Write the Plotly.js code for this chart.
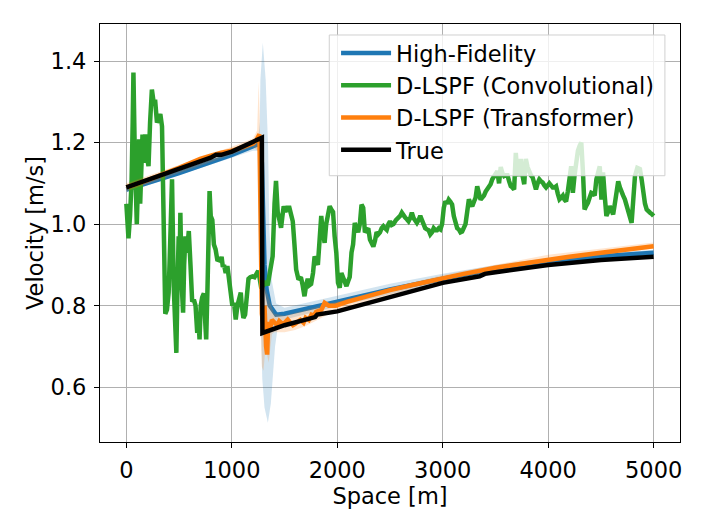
<!DOCTYPE html>
<html>
<head>
<meta charset="utf-8">
<script src="https://cdn.plot.ly/plotly-3.0.1.min.js"></script>
<style>html,body{margin:0;padding:0;background:#fff;}#chart{width:706px;height:529px;}</style>
</head>
<body>
<div id="chart"></div>
<script>
// ---- True ----
const trueX = [0, 200, 400, 600, 800, 850, 900, 1000, 1100, 1200, 1285, 1290, 1500, 1790, 1810, 2000, 2500, 3000, 3350, 3400, 3500, 4000, 4500, 5000];
const trueY = [1.09, 1.108, 1.127, 1.145, 1.163, 1.170, 1.170, 1.178, 1.19, 1.20, 1.212, 0.733, 0.752, 0.772, 0.778, 0.786, 0.822, 0.856, 0.872, 0.878, 0.882, 0.90, 0.912, 0.92];

// ---- High-Fidelity ----
const hfX = [0, 500, 1000, 1200, 1270, 1285, 1295, 1310, 1330, 1360, 1420, 1500, 2000, 2500, 3000, 3500, 4000, 4500, 5000];
const hfY = [1.085, 1.125, 1.17, 1.19, 1.198, 1.15, 1.0, 0.90, 0.84, 0.80, 0.778, 0.78, 0.81, 0.84, 0.866, 0.89, 0.908, 0.921, 0.93];
const hfUpX = [0, 1000, 1200, 1250, 1265, 1271, 1294, 1321, 1344, 1356, 1380, 1420, 1500, 2000, 2500, 3000, 3500, 4000, 4500, 5000];
const hfUpY = [1.095, 1.18, 1.20, 1.21, 1.25, 1.355, 1.445, 1.355, 1.19, 0.99, 0.86, 0.805, 0.795, 0.824, 0.854, 0.878, 0.90, 0.916, 0.928, 0.937];
const hfLoX = [0, 1000, 1200, 1250, 1262, 1271, 1277, 1289, 1310, 1342, 1370, 1391, 1410, 1440, 1500, 2000, 2500, 3000, 3500, 4000, 4500, 5000];
const hfLoY = [1.078, 1.163, 1.18, 1.18, 1.17, 0.99, 0.74, 0.62, 0.55, 0.513, 0.56, 0.62, 0.70, 0.755, 0.766, 0.798, 0.828, 0.855, 0.88, 0.899, 0.913, 0.923];

// ---- D-LSPF (Convolutional) ----
const convX = [0,10,20,35,50,60,67,78,89,99,110,121,131,140,153,165,178,194,210,225,242,258,274,290,306,322,338,350,369,385,401,415,433,449,462,474,485,496,505,512,525,538,548,560,575,592,608,624,640,656,672,685,694,705,719,735,750,757,770,780,789,800,815,830,846,862,878,894,903,915,926,942,958,974,990,1005,1021,1037,1053,1069,1085,1094,1110,1126,1140,1158,1175,1196,1215,1234,1250,1259,1276,1300,1320,1340,1360,1387,1405,1419,1435,1451,1467,1480,1492,1508,1524,1546,1562,1578,1594,1610,1632,1655,1672,1689,1705,1720,1736,1752,1770,1785,1800,1816,1832,1848,1864,1880,1895,1912,1928,1944,1960,1975,1991,2007,2023,2039,2055,2071,2087,2103,2118,2135,2150,2166,2182,2198,2214,2230,2246,2262,2278,2294,2310,2326,2342,2358,2373,2389,2405,2421,2437,2453,2469,2485,2500,2517,2533,2556,2580,2596,2612,2628,2644,2660,2676,2692,2707,2723,2739,2755,2771,2787,2803,2818,2834,2850,2866,2882,2898,2914,2930,2946,2962,2978,2994,3010,3025,3041,3057,3073,3089,3105,3121,3137,3153,3168,3184,3200,3216,3232,3248,3264,3280,3296,3312,3327,3343,3359,3375,3391,3407,3423,3439,3454,3470,3486,3502,3518,3534,3550,3566,3582,3598,3614,3630,3645,3661,3677,3685,3693,3705,3718,3730,3740,3756,3773,3780,3788,3804,3820,3836,3852,3868,3884,3900,3916,3932,3948,3964,3980,3996,4011,4027,4043,4059,4075,4091,4107,4123,4139,4155,4170,4186,4202,4218,4226,4234,4250,4266,4282,4298,4314,4330,4345,4361,4377,4393,4409,4425,4441,4457,4473,4489,4497,4505,4512,4520,4536,4552,4568,4584,4600,4616,4632,4648,4664,4680,4695,4711,4727,4743,4759,4775,4791,4807,4823,4845,4870,4886,4902,4918,4934,4950,4966,4982,5000];
const convY = [1.05,1.00,0.965,1.02,1.11,1.25,1.372,1.20,1.044,1.00,1.10,1.208,1.05,1.18,1.22,1.15,1.22,1.167,1.142,1.25,1.33,1.30,1.30,1.249,1.26,1.27,1.24,1.05,0.78,0.79,0.832,0.95,1.11,0.848,0.75,0.684,0.85,0.97,0.90,1.028,0.85,0.783,0.90,0.97,0.93,0.983,0.90,0.81,0.815,0.80,0.733,0.76,0.717,0.80,0.82,0.83,0.75,0.717,0.85,1.00,1.081,1.02,1.01,0.95,0.938,0.913,0.91,0.91,0.92,0.895,0.90,0.88,0.897,0.855,0.815,0.80,0.807,0.766,0.80,0.824,0.832,0.80,0.77,0.778,0.83,0.866,0.87,0.872,0.87,0.878,0.885,0.875,0.848,0.85,0.86,0.85,0.88,0.921,1.05,1.106,1.03,1.012,0.991,1.02,1.044,1.03,1.04,1.04,1.02,1.007,0.95,0.889,0.864,0.87,0.85,0.823,0.85,0.866,0.85,0.853,0.88,0.921,0.91,0.90,0.96,1.02,0.98,0.954,1.00,1.03,1.044,1.036,1.03,0.97,0.93,0.856,0.844,0.88,0.87,0.86,0.848,0.86,0.87,0.93,0.95,1.003,0.99,0.98,1.00,1.048,1.04,0.98,0.985,0.99,0.962,0.955,0.945,0.96,0.98,0.975,0.98,0.99,0.995,0.99,0.986,1.00,1.007,0.998,1.00,1.01,1.016,1.02,1.028,1.02,1.016,1.012,1.007,1.015,1.028,1.015,1.01,1.003,1.01,1.02,1.01,1.00,0.99,0.987,0.985,0.975,0.98,0.99,0.985,0.985,0.99,0.987,1.00,1.04,1.056,1.05,1.06,1.055,1.048,1.02,1.003,0.99,0.987,0.98,0.982,0.99,1.00,1.03,1.061,1.05,1.044,1.055,1.065,1.093,1.07,1.06,1.065,1.07,1.08,1.085,1.09,1.098,1.11,1.118,1.12,1.13,1.10,1.14,1.125,1.118,1.12,1.12,1.105,1.093,1.09,1.085,1.13,1.175,1.13,1.118,1.14,1.16,1.12,1.098,1.13,1.16,1.14,1.127,1.12,1.115,1.10,1.085,1.10,1.11,1.105,1.102,1.095,1.09,1.095,1.10,1.095,1.09,1.09,1.093,1.075,1.061,1.065,1.07,1.06,1.056,1.08,1.11,1.142,1.11,1.077,1.12,1.16,1.18,1.192,1.20,1.127,1.036,1.045,1.052,1.065,1.077,1.075,1.07,1.11,1.13,1.142,1.10,1.06,1.09,1.127,1.07,1.02,1.03,1.044,1.035,1.024,1.05,1.085,1.105,1.09,1.077,1.07,1.061,1.045,1.028,1.015,1.003,1.06,1.118,1.138,1.135,1.11,1.077,1.05,1.036,1.03,1.028,1.025,1.02];

// ---- D-LSPF (Transformer) ----
const trX = [0,100,200,300,400,450,500,600,700,800,850,900,1000,1100,1200,1230,1250,1262,1268,1275,1285,1300,1310,1325,1335,1345,1360,1380,1400,1430,1450,1480,1500,1530,1550,1580,1600,1630,1650,1680,1700,1730,1755,1780,1800,1850,1880,1920,1985,2100,2300,2500,2700,3000,3200,3500,3800,4000,4200,4500,4800,5000];
const trY = [1.09,1.098,1.108,1.118,1.13,1.133,1.138,1.15,1.16,1.168,1.172,1.175,1.18,1.19,1.198,1.205,1.215,1.22,1.10,0.90,0.78,0.75,0.80,0.70,0.68,0.76,0.74,0.765,0.76,0.752,0.762,0.755,0.758,0.766,0.76,0.752,0.755,0.762,0.765,0.758,0.77,0.765,0.778,0.776,0.785,0.79,0.807,0.80,0.80,0.81,0.825,0.838,0.85,0.868,0.878,0.893,0.905,0.913,0.92,0.93,0.94,0.946];
const trUpX = [0,1000,1200,1240,1255,1265,1280,1300,1320,1350,1400,1500,2000,3000,4000,5000];
const trUpY = [1.10,1.19,1.21,1.23,1.35,1.25,1.00,0.85,0.84,0.82,0.78,0.775,0.81,0.875,0.925,0.955];
const trLoX = [0,1000,1200,1245,1260,1270,1285,1300,1320,1350,1380,1400,1500,1600,1700,2000,3000,4000,5000];
const trLoY = [1.08,1.17,1.19,1.18,1.00,0.80,0.65,0.64,0.70,0.66,0.73,0.735,0.735,0.74,0.75,0.79,0.862,0.908,0.94];

// ---- axes ----
const xTicks = [0, 1000, 2000, 3000, 4000, 5000];
const yTicks = [0.6, 0.8, 1.0, 1.2, 1.4];
const yTickText = ["0.6", "0.8", "1.0", "1.2", "1.4"];

const FONT = "DejaVu Sans, sans-serif";
const FS = 22.5;

function band(upX, upY, loX, loY, color) {
  return {
    x: upX.concat(loX.slice().reverse()),
    y: upY.concat(loY.slice().reverse()),
    type: 'scatter', mode: 'lines', fill: 'toself', fillcolor: color,
    line: {width: 0, color: color}, hoverinfo: 'skip', showlegend: false
  };
}

const traces = [
  band(hfUpX, hfUpY, hfLoX, hfLoY, 'rgba(31,119,180,0.2)'),
  {x: hfX, y: hfY, type: 'scatter', mode: 'lines', name: 'High-Fidelity', legendgroup: 'a',
   line: {color: '#1f77b4', width: 4.5}},
  {x: convX, y: convY, type: 'scatter', mode: 'lines', name: 'D-LSPF (Convolutional)', legendgroup: 'b',
   line: {color: '#2ca02c', width: 4.5}},
  band(trUpX, trUpY, trLoX, trLoY, 'rgba(255,127,14,0.2)'),
  {x: trX, y: trY, type: 'scatter', mode: 'lines', name: 'D-LSPF (Transformer)', legendgroup: 'c',
   line: {color: '#ff7f0e', width: 4.5}},
  {x: trueX, y: trueY, type: 'scatter', mode: 'lines', name: 'True', legendgroup: 'd',
   line: {color: '#000000', width: 4.5}}
];

const axisCommon = {
  showline: true, mirror: true, linecolor: '#000', linewidth: 1.1,
  showgrid: true, gridcolor: '#b0b0b0', gridwidth: 1.1,
  zeroline: false, ticks: 'outside', ticklen: 5, tickwidth: 1.1, tickcolor: '#000',
  tickfont: {family: FONT, size: FS, color: '#000'}
};

const layout = {
  width: 706, height: 529,
  margin: {l: 100, r: 26, t: 24, b: 87, autoexpand: false},
  paper_bgcolor: '#fff', plot_bgcolor: '#fff',
  font: {family: FONT, size: FS, color: '#000'},
  showlegend: true,
  xaxis: Object.assign({}, axisCommon, {
    range: [-250, 5250], tickvals: xTicks, ticktext: xTicks.map(String),
    ticklabelstandoff: 3,
    title: {text: 'Space [m]', font: {family: FONT, size: FS, color: '#000'}, standoff: 1}
  }),
  yaxis: Object.assign({}, axisCommon, {
    range: [0.4655, 1.491], tickvals: yTicks, ticktext: yTickText,
    ticklabelstandoff: 3,
    title: {text: 'Velocity [m/s]', font: {family: FONT, size: FS, color: '#000'}, standoff: 0}
  }),
  shapes: [{
    type: 'rect', xref: 'paper', yref: 'paper', layer: 'above',
    x0: 0.3953, x1: 0.974, y0: 0.637, y1: 0.9737,
    fillcolor: 'rgba(255,255,255,0.8)', line: {color: '#d0d0d0', width: 1}
  }],
  legend: {
    x: 0.407, y: 0.981, xanchor: 'left', yanchor: 'top',
    bgcolor: 'rgba(0,0,0,0)', borderwidth: 0,
    font: {family: FONT, size: FS, color: '#000'},
    itemwidth: 50, tracegroupgap: 12, traceorder: 'normal'
  }
};

Plotly.newPlot('chart', traces, layout, {staticPlot: true, displayModeBar: false});
</script>
</body>
</html>
